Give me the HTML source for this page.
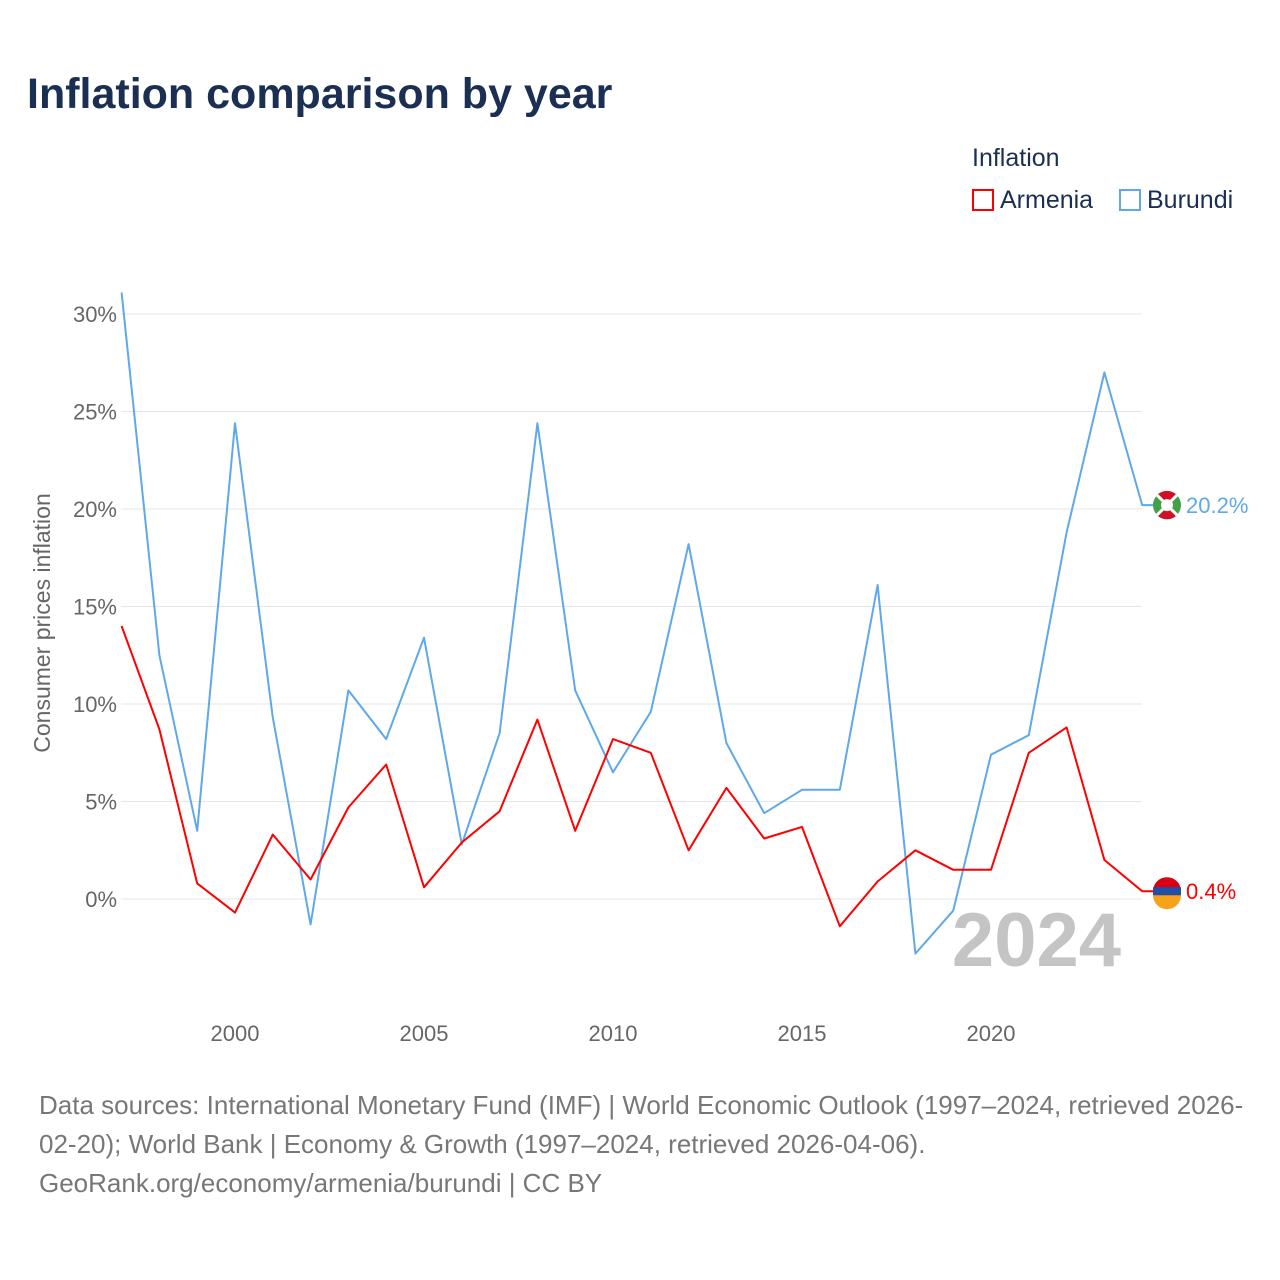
<!DOCTYPE html>
<html><head><meta charset="utf-8"><style>
body{margin:0;background:#fff;font-family:"Liberation Sans",sans-serif;}
#wrap{position:relative;width:1280px;height:1280px;overflow:hidden;}
.t{position:absolute;white-space:nowrap;}
</style></head><body>
<div id="wrap">
<div class="t" style="left:27px;top:70px;font-size:43px;font-weight:bold;color:#1b2f52;">Inflation comparison by year</div>
<div class="t" style="left:972px;top:144px;font-size:25px;color:#1b2f52;">Inflation</div>
<div class="t" style="left:972px;top:186px;font-size:25px;color:#1b2f52;"><span style="display:inline-block;width:22px;height:22px;border:2px solid #f00;box-sizing:border-box;vertical-align:-3px;margin-right:6px"></span>Armenia</div>
<div class="t" style="left:1119px;top:186px;font-size:25px;color:#1b2f52;"><span style="display:inline-block;width:22px;height:22px;border:2px solid #5fa8ea;box-sizing:border-box;vertical-align:-3px;margin-right:6px"></span>Burundi</div>
<svg id="chart" width="1280" height="1280" style="position:absolute;left:0;top:0"></svg>
<div class="t" style="left:39px;top:1086px;font-size:26px;color:#777;line-height:39px;">Data sources: International Monetary Fund (IMF) | World Economic Outlook (1997–2024, retrieved 2026-<br>02-20); World Bank | Economy &amp; Growth (1997–2024, retrieved 2026-04-06).<br>GeoRank.org/economy/armenia/burundi | CC BY</div>
</div>
<script>
const years=[1997,1998,1999,2000,2001,2002,2003,2004,2005,2006,2007,2008,2009,2010,2011,2012,2013,2014,2015,2016,2017,2018,2019,2020,2021,2022,2023,2024];
const burundi=[31.1,12.5,3.5,24.4,9.3,-1.3,10.7,8.2,13.4,2.8,8.5,24.4,10.7,6.5,9.6,18.2,8.0,4.4,5.6,5.6,16.1,-2.8,-0.6,7.4,8.4,18.8,27.0,20.2];
const armenia=[14.0,8.7,0.8,-0.7,3.3,1.0,4.7,6.9,0.6,2.9,4.5,9.2,3.5,8.2,7.5,2.5,5.7,3.1,3.7,-1.4,0.9,2.5,1.5,1.5,7.5,8.8,2.0,0.4];
const yTicks=[0,5,10,15,20,25,30];
const xTicks=[2000,2005,2010,2015,2020];
const NS="http://www.w3.org/2000/svg";
const svg=document.getElementById('chart');
const X=y=>235+(y-2000)*37.8;
const Y=v=>899-v*19.5;
function mk(tag,attrs,txt){const e=document.createElementNS(NS,tag);for(const k in attrs)e.setAttribute(k,attrs[k]);if(txt!==undefined)e.textContent=txt;svg.appendChild(e);return e;}
yTicks.forEach(v=>{
 const g=mk('line',{x1:121,x2:1142,y1:Y(v),y2:Y(v),stroke:'#e6e6e6','stroke-width':1});
 
 
 const t=mk('text',{x:117,y:Y(v)+8,'text-anchor':'end','font-size':22,fill:'#666','font-family':'Liberation Sans'},v+'%');
 
 
});
xTicks.forEach(y=>{
 const t=mk('text',{x:X(y),y:1041,'text-anchor':'middle','font-size':22,fill:'#666','font-family':'Liberation Sans'},y);
 
 
});
const yt=mk('text',{x:0,y:0,transform:'translate(50,623) rotate(-90)','text-anchor':'middle','font-size':23,fill:'#666','font-family':'Liberation Sans'},'Consumer prices inflation');


const yr=mk('text',{x:1121,y:966,'text-anchor':'end','font-size':76,'font-weight':'bold',fill:'#c4c4c4','font-family':'Liberation Sans'},'2024');


function series(vals,color,name){
 let d=vals.map((v,i)=>(i?'L':'M')+X(years[i]).toFixed(1)+','+Y(v).toFixed(1)).join(' ');
 const last=vals[vals.length-1];
 d+=' L1155,'+Y(last).toFixed(1);
 const p=mk('path',{d:d,fill:'none',stroke:color,'stroke-width':2,'stroke-linejoin':'round'});
 
 
 const t=mk('text',{x:1186,y:Y(last)+8,'font-size':22,fill:color,'font-family':'Liberation Sans'},last.toFixed(1)+'%');
 
 
}
series(burundi,'#5fa8ea','burundi');
series(armenia,'#f00','armenia');
// burundi flag
const by=Y(burundi[burundi.length-1]);
const bc=mk('circle',{cx:1167,cy:by,r:14,fill:'#43a047'});


const br=mk('path',{d:`M1157,${by-10} L1167,${by} L1177,${by-10} A14,14 0 0 0 1157,${by-10} Z M1157,${by+10} L1167,${by} L1177,${by+10} A14,14 0 0 1 1157,${by+10} Z`,fill:'#ce1126'});


const bx=mk('path',{d:`M1157,${by-10} L1177,${by+10} M1177,${by-10} L1157,${by+10}`,stroke:'#fff','stroke-width':3});


const bw=mk('circle',{cx:1167,cy:by,r:6,fill:'#fff'});


// armenia flag
const cy=Y(armenia[armenia.length-1]);
const ac=mk('circle',{cx:1167,cy:cy,r:14,fill:'#d90012'});


const b=mk('rect',{x:1153,y:cy-4,width:28,height:8,fill:'#1f4fa8'});


const o=mk('path',{d:`M1153,${cy+4} A14,14 0 0 0 1181,${cy+4} Z`,fill:'#f7a21b'});


</script>
</body></html>
